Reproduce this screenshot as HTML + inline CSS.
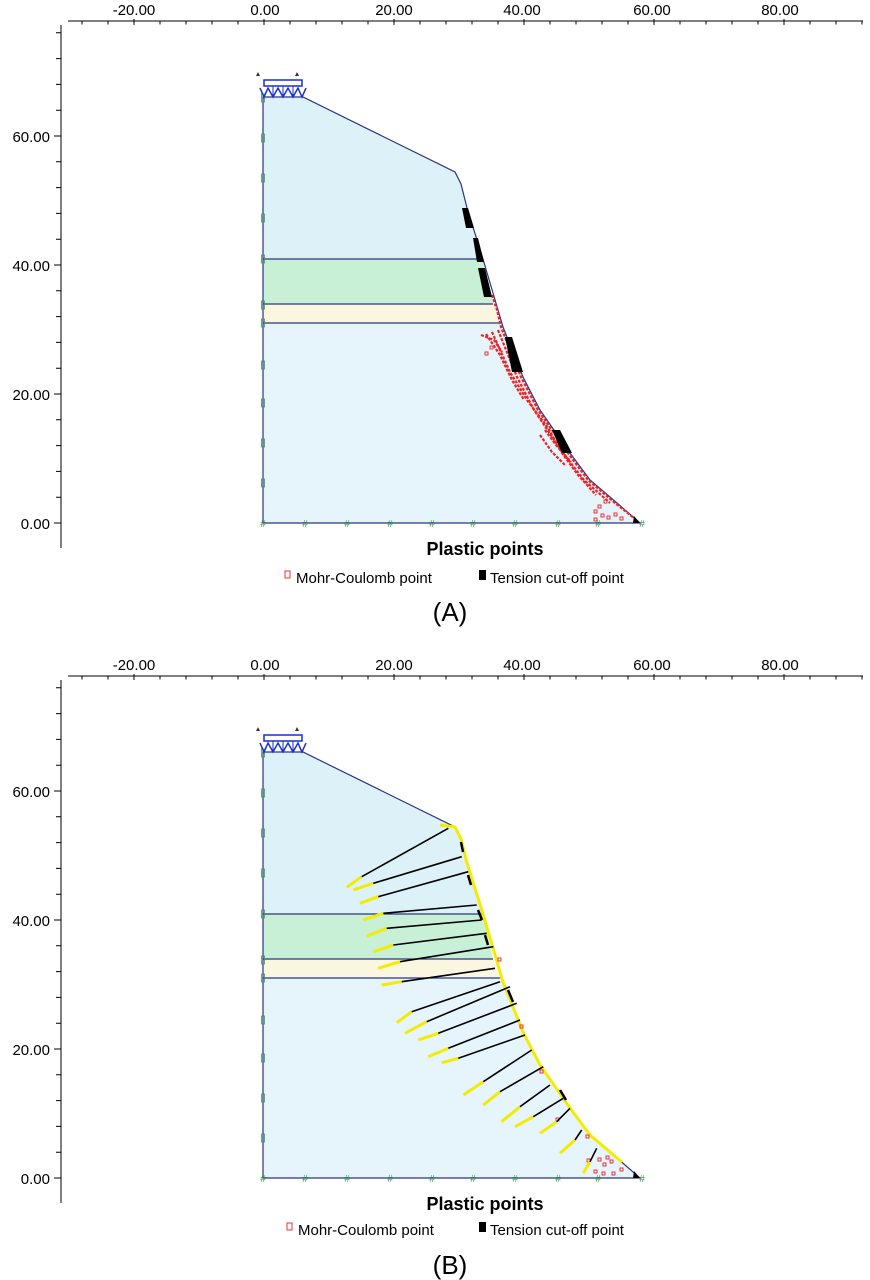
<!DOCTYPE html>
<html><head><meta charset="utf-8"><style>
html,body{margin:0;padding:0;background:#fff;}
svg{display:block;font-family:"Liberation Sans",Arial,sans-serif;}
</style></head><body>
<svg width="870" height="1280" viewBox="0 0 870 1280" xmlns="http://www.w3.org/2000/svg">
<defs>
<g id="panel">
  <line x1="68" y1="21" x2="863" y2="21" stroke="#000" stroke-width="1"/>
  <line x1="81.5" y1="22.5" x2="863" y2="22.5" stroke="#000" stroke-width="4" stroke-dasharray="1 25"/>
  <line x1="133.5" y1="22" x2="863" y2="22" stroke="#000" stroke-width="6" stroke-dasharray="1 129"/>
  <text x="134" y="15" font-size="15" text-anchor="middle">-20.00</text>
  <text x="265" y="15" font-size="15" text-anchor="middle">0.00</text>
  <text x="394" y="15" font-size="15" text-anchor="middle">20.00</text>
  <text x="522" y="15" font-size="15" text-anchor="middle">40.00</text>
  <text x="652" y="15" font-size="15" text-anchor="middle">60.00</text>
  <text x="780" y="15" font-size="15" text-anchor="middle">80.00</text>
  <line x1="61" y1="25" x2="61" y2="548" stroke="#000" stroke-width="1"/>
  <line x1="58.5" y1="32.3" x2="58.5" y2="548" stroke="#000" stroke-width="5" stroke-dasharray="1 24.8"/>
  <line x1="57.5" y1="135.5" x2="57.5" y2="548" stroke="#000" stroke-width="7" stroke-dasharray="1 128"/>
  <text x="50" y="142" font-size="15" text-anchor="end">60.00</text>
  <text x="50" y="271" font-size="15" text-anchor="end">40.00</text>
  <text x="50" y="400" font-size="15" text-anchor="end">20.00</text>
  <text x="50" y="529" font-size="15" text-anchor="end">0.00</text>
  <path d="M263,97 L303,97 L455,172 L461,184 L467,208 L483,259 L263,259 Z" fill="#dcf2f8"/>
  <path d="M263,259 L483,259 L493,304 L263,304 Z" fill="#c8f0d6"/>
  <path d="M263,304 L493,304 L500,323 L263,323 Z" fill="#fbf6df"/>
  <path d="M263,323 L500,323 L503,327 L523,377 L540,410 L570,453 L590,480 L617,503 L640,523 L263,523 Z" fill="#e6f4fc"/>
  <path d="M263,523 L263,97 L303,97 L455,172 L461,184 L467,208 L483,259 L493,293 L503,327 L523,377 L540,410 L570,453 L590,480 L617,503 L640,523 Z" fill="none" stroke="#2a3580" stroke-width="1.2"/>
  <line x1="263" y1="259" x2="483" y2="259" stroke="#2a3580" stroke-width="1.2"/>
  <line x1="263" y1="304" x2="493" y2="304" stroke="#2a3580" stroke-width="1.2"/>
  <line x1="263" y1="323" x2="500" y2="323" stroke="#2a3580" stroke-width="1.2"/>
  <g fill="none" stroke="#3a9a4a" stroke-width="0.8">
    <rect x="261.5" y="94" width="3" height="8"/><rect x="261.5" y="134" width="3" height="8"/>
    <rect x="261.5" y="174" width="3" height="8"/><rect x="261.5" y="214" width="3" height="8"/>
    <rect x="261.5" y="255" width="3" height="8"/><rect x="261.5" y="301" width="3" height="8"/>
    <rect x="261.5" y="319" width="3" height="8"/><rect x="261.5" y="361" width="3" height="8"/>
    <rect x="261.5" y="399" width="3" height="8"/><rect x="261.5" y="439" width="3" height="8"/>
    <rect x="261.5" y="479" width="3" height="8"/>
  </g>
  <g font-size="10" text-anchor="middle" fill="#3a9a4a">
    <text x="263" y="527">#</text><text x="305" y="527">#</text><text x="347" y="527">#</text>
    <text x="390" y="527">#</text><text x="432" y="527">#</text><text x="473" y="527">#</text>
    <text x="515" y="527">#</text><text x="558" y="527">#</text><text x="598" y="527">#</text>
    <text x="642" y="527">#</text>
  </g>
  <rect x="264" y="80" width="38" height="6" fill="none" stroke="#1a2fd0" stroke-width="1.5"/>
  <path d="M260,88 L264,97 L268,88 L273,97 L278,88 L283,97 L288,88 L293,97 L298,88 L302,97 L306,88" fill="none" stroke="#1a2fd0" stroke-width="1.5"/>
  <path d="M273,86 V97 M283,86 V97 M293,86 V97" stroke="#1a2fd0"/>
  <path d="M256,76 L258,72 L260,76Z M295,76 L297,72 L299,76Z" fill="#333"/>
</g>
</defs>
<use href="#panel"/>
<use href="#panel" y="655"/>

<!-- Panel A plastic points -->
<g fill="none" stroke="#e22" stroke-width="2.2" stroke-dasharray="3 1.5">
  <polyline points="492,295 497,310 501,327 521,377 538,410 568,453 588,480 615,503 634,518"/>
  <polyline points="498,330 517,377 534,410 563,453 584,480 610,503"/>
  <polyline points="492,332 510,372 527,400 548,428 562,453 578,475 596,495"/>
  <polyline points="486,334 500,355 512,380 524,400"/>
  <polyline points="481,335 494,340 502,352"/>
  <polyline points="540,435 552,452 566,466"/>
  <polyline points="545,430 556,445 571,462"/>
</g>
<g fill="none" stroke="#e22" stroke-width="0.9">
  <rect x="594" y="510" width="3" height="3"/><rect x="598" y="505" width="3" height="3"/>
  <rect x="601" y="514" width="3" height="3"/><rect x="594" y="518" width="3" height="3"/>
  <rect x="607" y="516" width="3" height="3"/><rect x="614" y="513" width="3" height="3"/>
  <rect x="604" y="500" width="3" height="3"/><rect x="620" y="517" width="3" height="3"/>
  <rect x="490" y="346" width="3" height="3"/><rect x="485" y="352" width="3" height="3"/>
</g>
<g fill="#000">
  <polygon points="462,208 468,208 474,228 466,228"/>
  <polygon points="473,238 478,238 484,262 477,262"/>
  <polygon points="478,268 485,268 492,297 484,297"/>
  <polygon points="505,337 512,337 523,372 512,372"/>
  <polygon points="552,430 560,430 572,453 562,453"/>
  <polygon points="634,516 640,523 633,523"/>
</g>

<!-- Panel B -->
<polyline points="440,825 455,827 461,839 467,863 483,914 493,948 503,982 523,1032 540,1065 570,1108 590,1135 617,1158 622,1162" fill="none" stroke="#f4ec00" stroke-width="3"/>
<g fill="none" stroke="#000" stroke-width="2.5">
  <polyline points="461,842 463,852"/><polyline points="468,875 471,885"/>
  <polyline points="478,910 482,920"/><polyline points="485,935 488,945"/>
  <polyline points="508,990 513,1002"/><polyline points="560,1090 566,1100"/>
</g>
<g fill="none" stroke="#e22" stroke-width="0.9">
  <rect x="498" y="958" width="3" height="3"/><rect x="520" y="1025" width="3" height="3"/>
  <rect x="540" y="1070" width="3" height="3"/><rect x="556" y="1118" width="3" height="3"/>
  <rect x="586" y="1135" width="3" height="3"/><rect x="598" y="1158" width="3" height="3"/>
  <rect x="603" y="1163" width="3" height="3"/><rect x="606" y="1156" width="3" height="3"/>
  <rect x="610" y="1160" width="3" height="3"/><rect x="594" y="1170" width="3" height="3"/>
  <rect x="602" y="1172" width="3" height="3"/><rect x="612" y="1172" width="3" height="3"/>
  <rect x="620" y="1168" width="3" height="3"/><rect x="587" y="1159" width="3" height="3"/>
</g>
<g stroke="#f4ec00" stroke-width="3">
  <line x1="361.7" y1="876.7" x2="346.7" y2="887.3"/>
  <line x1="373.3" y1="883.3" x2="353.3" y2="890"/>
  <line x1="378.3" y1="896.7" x2="360" y2="903.3"/>
  <line x1="383.3" y1="913.3" x2="363.3" y2="920"/>
  <line x1="386.7" y1="928.3" x2="366.7" y2="936"/>
  <line x1="393.3" y1="945" x2="373.3" y2="951.7"/>
  <line x1="400" y1="961.7" x2="378.3" y2="968.3"/>
  <line x1="401.7" y1="981.7" x2="381.7" y2="985"/>
  <line x1="411.7" y1="1011.7" x2="396.7" y2="1022.7"/>
  <line x1="426.7" y1="1021.7" x2="405" y2="1033.3"/>
  <line x1="438.3" y1="1033.3" x2="418.3" y2="1040"/>
  <line x1="448.3" y1="1048.3" x2="428.3" y2="1056.7"/>
  <line x1="458.3" y1="1058.3" x2="441.7" y2="1062.7"/>
  <line x1="483.3" y1="1081.7" x2="463.3" y2="1095"/>
  <line x1="500" y1="1091.7" x2="483.3" y2="1105"/>
  <line x1="520" y1="1106.7" x2="501.7" y2="1121.7"/>
  <line x1="533.3" y1="1116.7" x2="515" y2="1126.7"/>
  <line x1="556.7" y1="1121.7" x2="540" y2="1133.3"/>
  <line x1="575" y1="1140" x2="560" y2="1153.3"/>
  <line x1="590" y1="1161.7" x2="583.3" y2="1173.3"/>
</g>
<g stroke="#000" stroke-width="1.6">
  <line x1="448.3" y1="828.3" x2="361.7" y2="876.7"/>
  <line x1="461.7" y1="856.7" x2="373.3" y2="883.3"/>
  <line x1="468.3" y1="871.7" x2="378.3" y2="896.7"/>
  <line x1="476.7" y1="905" x2="383.3" y2="913.3"/>
  <line x1="481.7" y1="920" x2="386.7" y2="928.3"/>
  <line x1="486.7" y1="933.3" x2="393.3" y2="945"/>
  <line x1="493.3" y1="946.7" x2="400" y2="961.7"/>
  <line x1="495" y1="968.3" x2="401.7" y2="981.7"/>
  <line x1="500" y1="981.7" x2="411.7" y2="1011.7"/>
  <line x1="510" y1="986.7" x2="426.7" y2="1021.7"/>
  <line x1="516.7" y1="1003.3" x2="438.3" y2="1033.3"/>
  <line x1="520" y1="1020" x2="448.3" y2="1048.3"/>
  <line x1="525" y1="1035" x2="458.3" y2="1058.3"/>
  <line x1="531.7" y1="1050" x2="483.3" y2="1081.7"/>
  <line x1="543.3" y1="1066.7" x2="500" y2="1091.7"/>
  <line x1="550" y1="1085" x2="520" y2="1106.7"/>
  <line x1="563.3" y1="1098.3" x2="533.3" y2="1116.7"/>
  <line x1="570" y1="1108.3" x2="556.7" y2="1121.7"/>
  <line x1="581.7" y1="1130" x2="575" y2="1140"/>
  <line x1="596.7" y1="1148.3" x2="590" y2="1161.7"/>
</g>
<polygon points="634,1171 640,1178 633,1178" fill="#000"/>

<text x="485" y="555" font-size="18" font-weight="bold" text-anchor="middle">Plastic points</text>
<rect x="285" y="571" width="5" height="7" fill="none" stroke="#e33" stroke-width="1"/>
<text x="296" y="583" font-size="15">Mohr-Coulomb point</text>
<rect x="479" y="570" width="7" height="10" fill="#000"/>
<text x="490" y="583" font-size="15">Tension cut-off point</text>
<text x="450" y="621" font-size="26" text-anchor="middle">(A)</text>
<text x="485" y="1210" font-size="18" font-weight="bold" text-anchor="middle">Plastic points</text>
<rect x="287" y="1223" width="5" height="7" fill="none" stroke="#e33" stroke-width="1"/>
<text x="298" y="1235" font-size="15">Mohr-Coulomb point</text>
<rect x="479" y="1222" width="7" height="10" fill="#000"/>
<text x="490" y="1235" font-size="15">Tension cut-off point</text>
<text x="450" y="1274" font-size="26" text-anchor="middle">(B)</text>
</svg>
</body></html>
